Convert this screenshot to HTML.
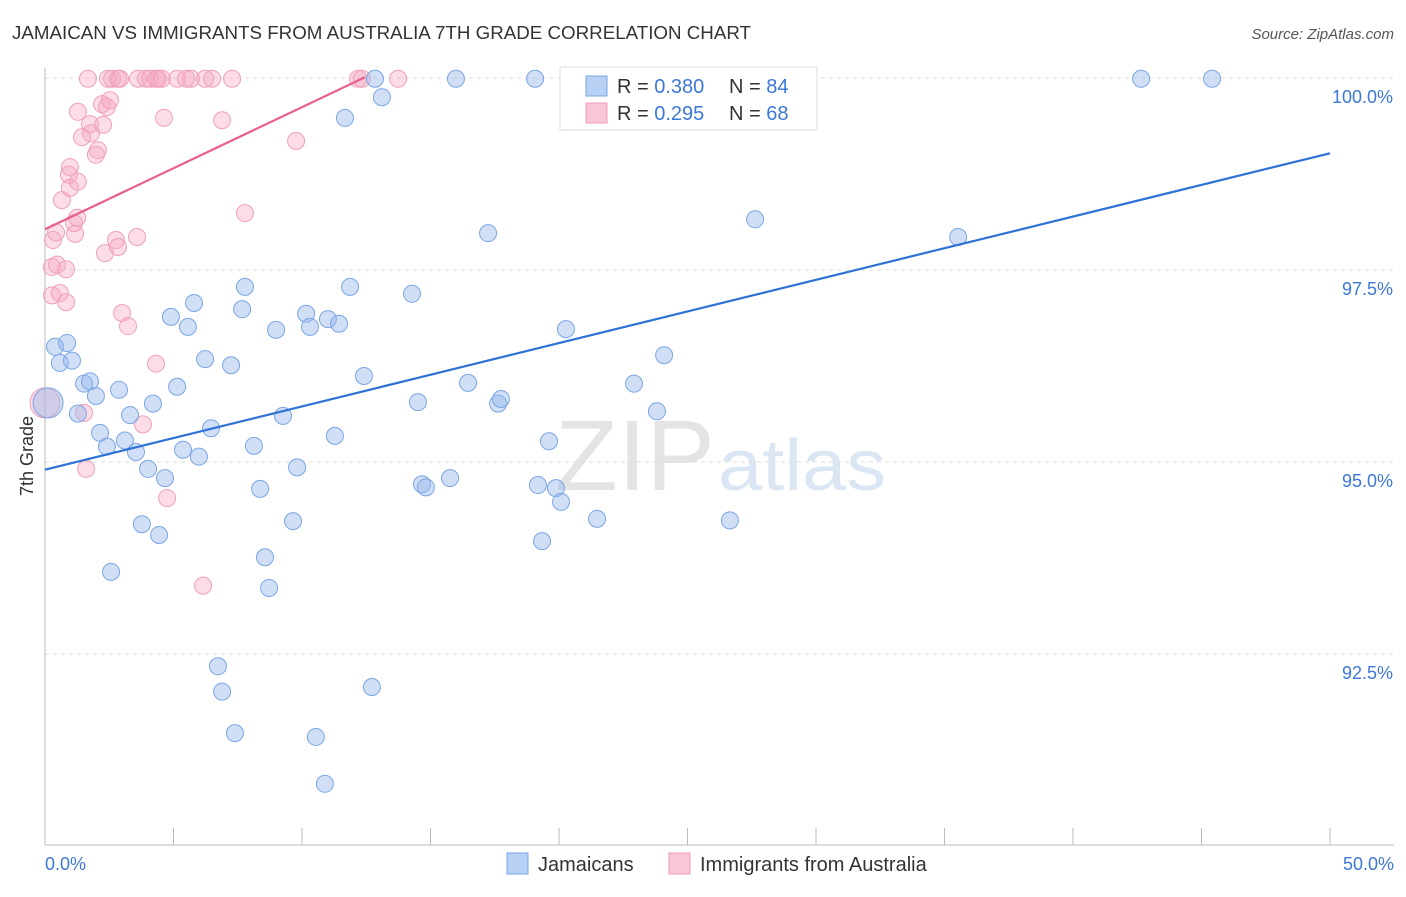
<!DOCTYPE html>
<html><head><meta charset="utf-8"><style>
body{margin:0;background:#fff;font-family:"Liberation Sans",sans-serif;}
svg text{font-family:"Liberation Sans",sans-serif;}
</style></head><body>
<svg id="chart" width="1406" height="892">
<text x="12" y="39" font-size="18" fill="#333" textLength="739" lengthAdjust="spacingAndGlyphs">JAMAICAN VS IMMIGRANTS FROM AUSTRALIA 7TH GRADE CORRELATION CHART</text>
<text x="1394" y="39" font-size="15" fill="#555" font-style="italic" text-anchor="end">Source: ZipAtlas.com</text>
<text x="33" y="456" font-size="18" fill="#333" transform="rotate(-90 33 456)" text-anchor="middle">7th Grade</text>
<text x="555" y="490" font-size="100" fill="#e4e4e4" font-family="Liberation Serif" textLength="160" lengthAdjust="spacingAndGlyphs">ZIP</text>
<text x="718" y="490" font-size="72" fill="#dbe6f5" textLength="168" lengthAdjust="spacingAndGlyphs">atlas</text>
<g id="grid"></g><g id="axes"></g><g id="pink"></g><g id="blue"></g><g id="lines"></g>
<g>
<rect x="560" y="67" width="257" height="63" fill="#fff" stroke="#ddd"/>
<rect x="586" y="76" width="21" height="20" fill="#b7d0f4" stroke="#7aa6e4"/>
<rect x="586" y="103" width="21" height="20" fill="#f9c6d6" stroke="#ef9ab7"/>
<text x="617" y="93" font-size="20" fill="#333">R = <tspan fill="#3d78d6">0.380</tspan></text>
<text x="729" y="93" font-size="20" fill="#333">N = <tspan fill="#3d78d6">84</tspan></text>
<text x="617" y="120" font-size="20" fill="#333">R = <tspan fill="#3d78d6"> 0.295</tspan></text>
<text x="729" y="120" font-size="20" fill="#333">N = <tspan fill="#3d78d6">68</tspan></text>
</g>
<g>
<rect x="507" y="853" width="21" height="21" fill="#b7d0f4" stroke="#7aa6e4"/>
<text x="538" y="871" font-size="20" fill="#333">Jamaicans</text>
<rect x="669" y="853" width="21" height="21" fill="#f9c6d6" stroke="#ef9ab7"/>
<text x="700" y="871" font-size="20" fill="#333">Immigrants from Australia</text>
</g>
</svg>
<script>
const yTicks=[100,97.5,95,92.5];
const yTickLabels=["100.0%","97.5%","95.0%","92.5%"];
const xTickLabels=["0.0%","50.0%"];
const blueX=[0.12,.39,.86,.58,1.05,1.52,1.75,1.98,1.28,2.14,2.41,2.88,3.11,3.31,3.54,4.01,4.20,4.67,3.77,4.44,2.57,5.14,4.90,5.56,5.80,5.37,5.99,6.23,6.46,6.73,6.89,7.39,7.24,7.67,7.78,8.13,8.37,8.56,8.72,8.99,9.26,9.65,9.81,10.16,10.31,10.54,10.89,11.01,11.44,11.28,11.87,12.41,12.72,11.67,12.84,13.11,14.28,14.51,14.67,14.82,15.76,15.99,16.46,17.24,17.63,17.74,19.07,19.18,19.34,19.61,19.88,20.08,20.27,21.48,22.92,23.81,24.09,26.65,26.50,27.63,35.53,42.65,45.41];
const blueY=[95.77,96.50,96.55,96.29,96.32,96.02,96.05,95.86,95.63,95.38,95.20,95.94,95.28,95.61,95.13,94.91,95.76,94.79,94.19,94.05,93.57,95.98,96.89,96.76,97.07,95.16,95.07,96.34,95.44,92.34,92.01,91.47,96.26,96.99,97.28,95.21,94.65,93.76,93.36,96.72,95.60,94.23,94.93,96.93,96.76,91.42,90.81,96.86,96.80,95.34,97.28,96.12,92.07,99.48,99.99,99.75,97.19,95.78,94.71,94.67,94.79,99.99,96.03,97.98,95.76,95.82,99.99,94.70,93.97,95.27,94.66,94.48,96.73,94.26,96.02,95.66,96.39,94.24,99.99,98.16,97.93,99.99,99.99];
const pinkX=[0,.27,.31,.43,.27,.47,.66,.58,.82,.82,.97,.93,.97,1.28,1.13,1.25,1.17,1.28,1.44,1.52,1.60,1.67,1.75,1.79,1.98,2.06,2.26,2.22,2.33,2.41,2.53,2.45,2.61,2.84,2.92,2.76,2.84,3.00,3.23,3.58,3.62,3.81,3.93,4.09,4.32,4.40,4.55,4.32,4.63,4.75,5.14,5.49,5.68,6.15,6.23,6.50,6.89,7.28,7.78,9.77,12.18,12.33,13.74];
const pinkY=[95.77,97.54,97.89,97.99,97.17,97.57,98.41,97.20,97.51,97.08,98.84,98.74,98.57,98.65,98.11,98.18,97.97,99.56,99.23,95.64,94.91,99.99,99.40,99.28,99.00,99.06,99.39,99.66,97.72,99.62,99.71,99.99,99.99,99.99,99.99,97.89,97.80,96.94,96.77,97.93,99.99,95.49,99.99,99.99,99.99,99.99,99.99,96.28,99.48,94.53,99.99,99.99,99.99,93.39,99.99,99.99,99.45,99.99,98.24,99.18,99.99,99.99,99.99];
const blueTrend=[0,94.90,50,99.02];
const pinkTrend=[0,98.03,12.45,100.01];
const NS='http://www.w3.org/2000/svg';
const X=v=>45+v/50*1285, Y=v=>78+(100-v)/2.5*192;
function mk(p,t,a){const e=document.createElementNS(NS,t);for(const k in a)e.setAttribute(k,a[k]);document.getElementById(p).appendChild(e);return e;}
yTicks.forEach((t,i)=>{
 const l=mk('grid','line',{x1:45,x2:1394,y1:Y(t),y2:Y(t),stroke:'#ddd','stroke-dasharray':'4 4'});
 
 
 const tx=mk('grid','text',{x:1393,y:Y(t)+25,'font-size':18,fill:'#3d78d6','text-anchor':'end'});tx.textContent=yTickLabels[i];
 
 
});
const ax=mk('axes','line',{x1:45,x2:45,y1:68,y2:845,stroke:'#bbb'});


const bx=mk('axes','line',{x1:45,x2:1394,y1:845,y2:845,stroke:'#bbb'});


for(let i=0;i<=10;i++){const t=mk('axes','line',{x1:X(i*5),x2:X(i*5),y1:828,y2:845,stroke:'#bbb'});
 
 }
[[0,'start',45],[50,'end',1394]].forEach((d,i)=>{const t=mk('axes','text',{x:d[2],y:870,'font-size':18,fill:'#3d78d6','text-anchor':d[1]});t.textContent=xTickLabels[i];
 
 });
pinkX.forEach((x,i)=>{const c=mk('pink','circle',{cx:X(x),cy:Y(pinkY[i]),r:i==0?15:8.5,fill:'rgba(246,168,196,0.4)',stroke:'#f0a0bc','stroke-width':1});
 
 });
blueX.forEach((x,i)=>{const c=mk('blue','circle',{cx:X(x),cy:Y(blueY[i]),r:i==0?15:8.5,fill:'rgba(150,185,235,0.45)',stroke:'#7aa6e4','stroke-width':1});
 
 });
const bl=mk('lines','line',{x1:X(blueTrend[0]),y1:Y(blueTrend[1]),x2:X(blueTrend[2]),y2:Y(blueTrend[3]),stroke:'#2f72d6','stroke-width':2.2});


const pl=mk('lines','line',{x1:X(pinkTrend[0]),y1:Y(pinkTrend[1]),x2:X(pinkTrend[2]),y2:Y(pinkTrend[3]),stroke:'#e8608e','stroke-width':2.2});


</script>
</body></html>
